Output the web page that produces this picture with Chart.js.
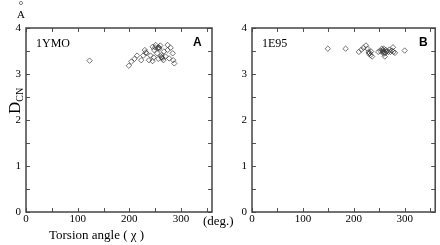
<!DOCTYPE html>
<html>
<head>
<meta charset="utf-8">
<script src="https://cdn.jsdelivr.net/npm/chart.js@4/dist/chart.umd.min.js"></script>
<style>
    body { margin: 0; background: #fff; }
    #wrap { position: relative; width: 440px; height: 245px; overflow: hidden; }
    .panel { position: absolute; top: 0; }
</style>
</head>
<body>
<div id="wrap">
    <canvas id="chartA" class="panel" style="left:0px" width="250" height="245"></canvas>
    <canvas id="chartB" class="panel" style="left:220px" width="220" height="245"></canvas>
</div>
<script>
// Panel A: 1YMO
const anglesA = [123, 199, 204, 210, 215, 223, 227, 230, 233, 238, 241, 245, 248, 251, 247, 254, 257, 260, 256,
    262, 264, 266, 267, 270, 274, 277, 280, 284, 285, 287, 274, 250, 255, 258, 262, 245, 232, 257, 263];
const dcnA = [3.29, 3.18, 3.27, 3.33, 3.40, 3.30, 3.40, 3.52, 3.45, 3.30, 3.40, 3.59, 3.52, 3.63, 3.36, 3.45, 3.57, 3.62, 3.33,
    3.41, 3.34, 3.30, 3.49, 3.38, 3.52, 3.34, 3.57, 3.45, 3.30, 3.23, 3.63, 3.58, 3.56, 3.55, 3.37, 3.28, 3.47, 3.58, 3.36];

// Panel B: 1E95
const anglesB = [149, 184, 210, 215, 219, 224, 227, 229, 230, 233, 236, 234, 248, 252, 255, 257, 259, 261, 257,
    259, 262, 265, 268, 270, 272, 275, 277, 278, 281, 300, 258, 260, 263, 231];
const dcnB = [3.55, 3.55, 3.48, 3.53, 3.57, 3.62, 3.55, 3.48, 3.44, 3.41, 3.38, 3.49, 3.48, 3.50, 3.55, 3.48, 3.44, 3.38, 3.52,
    3.55, 3.46, 3.49, 3.48, 3.53, 3.48, 3.51, 3.58, 3.48, 3.46, 3.51, 3.50, 3.47, 3.52, 3.46];

const xTicks = [0, 100, 200, 300];
const yTicks = [0, 1, 2, 3, 4];
const xMinor = [0, 50, 100, 150, 200, 250, 300, 350];
const yMinor = [0, 0.5, 1, 1.5, 2, 2.5, 3, 3.5, 4];

const serif = "'Liberation Serif', 'DejaVu Serif', serif";
const sans = "'Liberation Sans', Arial, sans-serif";

// frame, inward ticks and the panel texts
const framePlugin = {
    id: 'frame',
    afterDraw(chart, args, opts)
    {
        const ctx = chart.ctx;
        const area = chart.chartArea;
        const x = chart.scales.x;
        const y = chart.scales.y;
        ctx.save();
        ctx.strokeStyle = '#555';
        ctx.lineWidth = 1;
        ctx.beginPath();
        xMinor.forEach(v =>
        {
            const px = Math.round(x.getPixelForValue(v)) + 0.5;
            ctx.moveTo(px, area.bottom);
            ctx.lineTo(px, area.bottom - 4);
            ctx.moveTo(px, area.top);
            ctx.lineTo(px, area.top + 4);
        });
        yMinor.forEach(v =>
        {
            const py = Math.round(y.getPixelForValue(v)) + 0.5;
            ctx.moveTo(area.left, py);
            ctx.lineTo(area.left + 4, py);
            ctx.moveTo(area.right, py);
            ctx.lineTo(area.right - 4, py);
        });
        ctx.stroke();

        ctx.strokeStyle = '#444';
        ctx.lineWidth = 1.5;
        ctx.strokeRect(area.left, area.top, area.right - area.left, area.bottom - area.top);

        ctx.fillStyle = '#000';
        ctx.textAlign = 'left';
        ctx.textBaseline = 'alphabetic';
        ctx.font = '12px ' + serif;
        ctx.fillText(opts.name, opts.nameX, 47);
        ctx.font = 'bold 12px ' + sans;
        ctx.fillText(opts.letter, opts.letterX, 46);

        if (opts.axisTitles)
        {
            ctx.font = '11px ' + serif;
            ctx.textAlign = 'center';
            ctx.fillText('A', 21, 18);
            ctx.fillText('\u00B0', 21, 9);

            ctx.font = '13px ' + serif;
            ctx.textAlign = 'left';
            ctx.fillText('Torsion angle ( \u03C7 )', 49, 239);
            ctx.fillText('(deg.)', 203, 225);

            ctx.save();
            ctx.rotate(-Math.PI / 2);
            ctx.font = '17px ' + serif;
            ctx.fillText('D', -114, 20);
            const wD = ctx.measureText('D').width;
            ctx.font = '10px ' + serif;
            ctx.fillText('CN', -114 + wD, 23);
            ctx.restore();
        }
        ctx.restore();
    }
};

function makePanel(canvasId, angles, dcn, yWidth, padRight, texts)
{
    const points = angles.map((a, i) => ({x: a, y: dcn[i]}));
    new Chart(document.getElementById(canvasId), {
        type: 'scatter',
        data: {
            datasets: [{
                data: points,
                pointStyle: 'rectRot',
                pointRadius: 2.7,
                borderColor: 'rgba(50, 50, 50, 0.85)',
                borderWidth: 0.8,
                backgroundColor: 'rgba(255, 255, 255, 0)'
            }]
        },
        options: {
            responsive: false,
            animation: false,
            layout: {padding: {left: 0, right: padRight, top: 28, bottom: 0}},
            plugins: {
                legend: {display: false},
                tooltip: {enabled: false},
                frame: texts
            },
            scales: {
                x: {
                    type: 'linear',
                    min: 0,
                    max: 360,
                    grid: {display: false, drawTicks: false},
                    border: {display: false},
                    afterBuildTicks: s => { s.ticks = xTicks.map(v => ({value: v})); },
                    afterFit: s => { s.height = 33; },
                    ticks: {
                        padding: 1,
                        maxRotation: 0,
                        color: '#000',
                        font: {family: serif, size: 11}
                    }
                },
                y: {
                    type: 'linear',
                    min: 0,
                    max: 4,
                    grid: {display: false, drawTicks: false},
                    border: {display: false},
                    afterBuildTicks: s => { s.ticks = yTicks.map(v => ({value: v})); },
                    afterFit: s => { s.width = yWidth; },
                    ticks: {
                        padding: 5,
                        color: '#000',
                        font: {family: serif, size: 11}
                    }
                }
            }
        },
        plugins: [framePlugin]
    });
}

makePanel('chartA', anglesA, dcnA, 26, 38, {name: '1YMO', nameX: 36, letter: 'A', letterX: 193, axisTitles: true});
makePanel('chartB', anglesB, dcnB, 32, 2, {name: '1E95', nameX: 42, letter: 'B', letterX: 199, axisTitles: false});
</script>
</body>
</html>
